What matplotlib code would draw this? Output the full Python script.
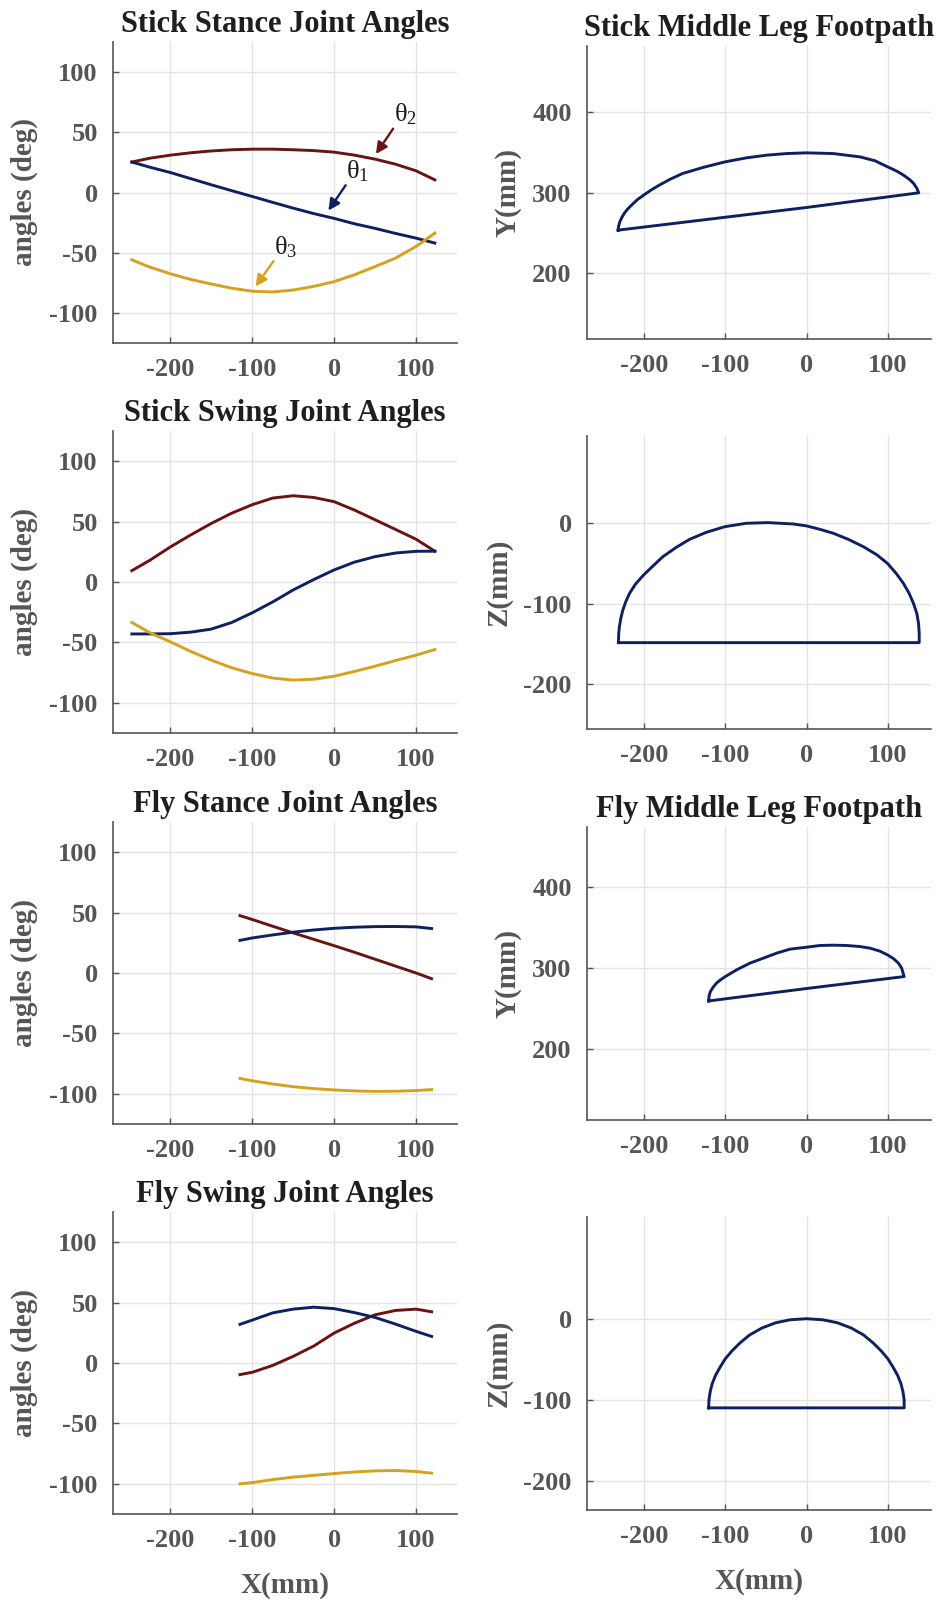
import numpy as np
import matplotlib
matplotlib.use("Agg")
import matplotlib.pyplot as plt

plt.rcParams['font.family'] = ['Liberation Serif', 'DejaVu Serif']
plt.rcParams['font.weight'] = 'bold'
plt.rcParams['axes.titleweight'] = 'bold'
plt.rcParams['axes.labelweight'] = 'bold'
plt.rcParams['axes.unicode_minus'] = False
plt.rcParams['mathtext.fontset'] = 'custom'
plt.rcParams['mathtext.rm'] = 'Liberation Serif:weight=normal'
plt.rcParams['mathtext.it'] = 'Liberation Serif:italic:weight=normal'

NAVY = '#0f2060'
RED = '#6b1212'
GOLD = '#d6a21e'
TICK_C = '#555555'
TITLE_C = '#1e1e1e'

# ---- joint angles (deg) vs foot X (mm) ----
stick_x = [-247, -225, -200, -175, -150, -125, -100, -75, -50, -25, 0, 25, 50, 75, 100, 123]

stick_stance_t1 = [25.3, 21, 16.6, 11.5, 6.4, 1.5, -3.3, -8.2, -13, -17.5, -21.5, -26, -29.8, -34, -37.9, -42]
stick_stance_t2 = [25.3, 28.5, 31, 33, 34.5, 35.5, 36, 36, 35.5, 34.8, 33.5, 31, 27.7, 23.5, 18, 10.5]
stick_stance_t3 = [-55.9, -62, -67.5, -72.2, -76, -79.5, -82, -82.6, -81, -78, -74, -68.3, -61.5, -54.5, -44.8, -33.7]

stick_swing_t1 = [-43, -43, -42.8, -41.5, -39, -33.5, -25.5, -16.5, -6.6, 2, 10, 16.5, 21, 24, 25.4, 25.5]
stick_swing_t2 = [9.4, 18, 29, 39, 48.5, 57, 64, 69.5, 71.4, 70, 66.5, 59.5, 51.5, 43.5, 35.4, 25.5]
stick_swing_t3 = [-33.5, -42, -49.5, -57.5, -64.7, -71, -75.8, -79.5, -81.2, -80.5, -78, -74, -69.7, -65, -60.6, -55.9]

fly_x = [-115, -100, -75, -50, -25, 0, 25, 50, 75, 100, 119]

fly_stance_t1 = [27, 29, 31.5, 33.8, 35.6, 37, 37.9, 38.4, 38.5, 38.2, 36.8]
fly_stance_t2 = [47.5, 44.3, 38.7, 33.2, 27.9, 22.6, 17.1, 11.4, 5.7, 0, -4.7]
fly_stance_t3 = [-87.3, -89.2, -91.9, -94.1, -95.7, -96.8, -97.6, -98, -97.9, -97.3, -96.5]

fly_swing_t1 = [32, 35.5, 41.5, 44.6, 46.2, 45, 41.7, 37.7, 32.2, 26.2, 22]
fly_swing_t2 = [-9.6, -7.7, -2, 5.5, 14, 24.8, 33, 39.9, 43.5, 44.6, 42.4]
fly_swing_t3 = [-100, -99, -96.5, -94.5, -93, -91.5, -90.2, -89.3, -89, -89.8, -91.2]

# ---- foot paths (mm): swing arc left to right, then stance line back ----
stick_xy_x = [-231.7, -231.3, -229.6, -227.2, -224.3, -219.8, -214, -207.8, -200.4, -191.4, -181.1,
              -167.5, -152.3, -127.6, -100, -74.1, -49.4, -24.7, 0, 32.9, 65.8, 84.4, 99.6, 111.1,
              119.3, 126.7, 131.7, 135.8, 137.9, 0, -231.7]
stick_xy_y = [253.5, 257.6, 263.8, 269.1, 274.1, 279.8, 285.6, 291.4, 296.7, 302.9, 309.1,
              316.5, 323.5, 330.9, 337.9, 342.8, 346.1, 348.1, 349, 348.1, 344, 339.1, 331.7, 326.3,
              321.4, 316, 311.1, 304.9, 299.6, 281.5, 253.5]

stick_xz_x = [-231.4, -231, -230.2, -228.5, -226, -222.4, -217.8, -210.4, -200.6, -189, -176.7,
              -160.3, -143.9, -123.3, -100.3, -74, -47.3, -16.4, 0, 16.4, 32.9, 51.4, 69.9, 86.3,
              99.5, 110.2, 119.2, 126.2, 131.5, 135.6, 137.7, 138.5, 138.5, -231.4]
stick_xz_z = [-148.3, -137.2, -128.9, -118.6, -108.3, -97.9, -87.6, -76, -64.9, -53.7, -42.1,
              -30.6, -20.7, -12, -5, -0.8, 0, -1.7, -4.1, -8.3, -13.2, -20.7, -29.8, -39.7,
              -50.4, -62.8, -75.2, -87.6, -100, -112.4, -124.8, -137.2, -148.3, -148.3]

fly_xy_x = [-120.3, -119.9, -118.3, -115, -110.9, -106, -100, -86.2, -69.8, -53.4, -37, -20.5, 0,
            16.4, 32.9, 49.3, 65.7, 78, 90.3, 99.4, 106.8, 113, 117, 119.9, 0, -120.3]
fly_xy_y = [259.7, 265.8, 271.2, 276.5, 281.5, 285.6, 289.7, 297.9, 306.2, 312.3, 318.5, 323.5, 325.9,
            328, 328.4, 328, 326.7, 324.7, 321, 316.5, 311.9, 306.2, 300, 289.7, 275, 259.7]

fly_xz_x = [-120.4, -120, -118.5, -116, -112, -106.5, -100, -92, -82, -70, -55, -38, -20, 0,
            20, 38, 55, 70, 82, 92, 100, 106.5, 112, 116, 118.5, 120, 120, -120.4]
fly_xz_z = [-110, -100, -90, -80, -70, -60, -49.5, -40, -30, -20, -11.5, -5, -1.3, 0,
            -1.3, -5, -11.5, -20, -30, -40, -49.5, -60, -70, -80, -90, -100, -110, -110]

W, H = 936, 1604
fig = plt.figure(figsize=(W / 100, H / 100), dpi=100)

LW = 2.1


def ax_at(x0, x1, y0, y1):
    return fig.add_axes([x0 / W, 1 - y1 / H, (x1 - x0) / W, (y1 - y0) / H])


def style(ax):
    for s in ['top', 'right']:
        ax.spines[s].set_visible(False)
    for s in ['left', 'bottom']:
        ax.spines[s].set_color('#555555')
        ax.spines[s].set_linewidth(1.2)
    ax.grid(True, color='#e3e3e3', lw=1.0)
    ax.set_axisbelow(True)
    ax.tick_params(direction='in', length=4, width=1, colors='#555555',
                   labelcolor=TICK_C, labelsize=19, pad=11)
    ax.set_xticks([-200, -100, 0, 100])


def angles(ax, x, t1, t2, t3, title):
    ax.plot(x, t2, color=RED, lw=LW)
    ax.plot(x, t1, color=NAVY, lw=LW)
    ax.plot(x, t3, color=GOLD, lw=LW)
    ax.set_xlim(-270, 150)
    ax.set_ylim(-125, 125)
    ax.set_yticks([-100, -50, 0, 50, 100])
    style(ax)
    ax.set_ylabel('angles (deg)', fontsize=21, color=TICK_C, labelpad=8)
    ax.set_title(title, fontsize=22, color=TITLE_C, pad=7)


def footpath(ax, x, y, ylim, yticks, ylabel, title=None):
    ax.plot(x, y, color=NAVY, lw=LW)
    ax.set_xlim(-270, 153)
    ax.set_ylim(*ylim)
    ax.set_yticks(yticks)
    style(ax)
    ax.set_ylabel(ylabel, fontsize=21, color=TICK_C, labelpad=8)
    if title:
        ax.set_title(title, fontsize=22, color=TITLE_C, pad=7)


left_rows = [(42, 343), (431, 733), (822, 1124), (1212, 1514)]
right_rows = [(46, 339), (436, 729), (827, 1120), (1217, 1510)]

a1 = ax_at(113, 457, *left_rows[0])
angles(a1, stick_x, stick_stance_t1, stick_stance_t2, stick_stance_t3, 'Stick Stance Joint Angles')
a2 = ax_at(113, 457, *left_rows[1])
angles(a2, stick_x, stick_swing_t1, stick_swing_t2, stick_swing_t3, 'Stick Swing Joint Angles')
a3 = ax_at(113, 457, *left_rows[2])
angles(a3, fly_x, fly_stance_t1, fly_stance_t2, fly_stance_t3, 'Fly Stance Joint Angles')
a4 = ax_at(113, 457, *left_rows[3])
angles(a4, fly_x, fly_swing_t1, fly_swing_t2, fly_swing_t3, 'Fly Swing Joint Angles')
a4.set_xlabel('X(mm)', fontsize=21, color=TICK_C, labelpad=14)

# joint labels with arrows on the first panel
for txt, xy, xytext, col in [(r'$\mathrm{\theta}_2$', (51, 32), (72, 53), RED),
                             (r'$\mathrm{\theta}_1$', (-7, -15), (14, 6), NAVY),
                             (r'$\mathrm{\theta}_3$', (-96, -78), (-74, -57), GOLD)]:
    a1.annotate('', xy=xy, xytext=xytext,
                arrowprops=dict(arrowstyle='-|>', color=col, lw=1.7, mutation_scale=17,
                                shrinkA=0, shrinkB=0))
    a1.text(xytext[0] + 1, xytext[1] + 1, txt, fontsize=19, color=TITLE_C,
            fontweight='normal', ha='left', va='bottom')

b1 = ax_at(587, 931, *right_rows[0])
footpath(b1, stick_xy_x, stick_xy_y, (119, 481), [200, 300, 400], 'Y(mm)', 'Stick Middle Leg Footpath')
b2 = ax_at(587, 931, *right_rows[1])
footpath(b2, stick_xz_x, stick_xz_z, (-255, 107), [-200, -100, 0], 'Z(mm)')
b3 = ax_at(587, 931, *right_rows[2])
footpath(b3, fly_xy_x, fly_xy_y, (113, 474), [200, 300, 400], 'Y(mm)', 'Fly Middle Leg Footpath')
b4 = ax_at(587, 931, *right_rows[3])
footpath(b4, fly_xz_x, fly_xz_z, (-236, 125.5), [-200, -100, 0], 'Z(mm)')
b4.set_xlabel('X(mm)', fontsize=21, color=TICK_C, labelpad=14)

fig.savefig('out.png', dpi=100)
